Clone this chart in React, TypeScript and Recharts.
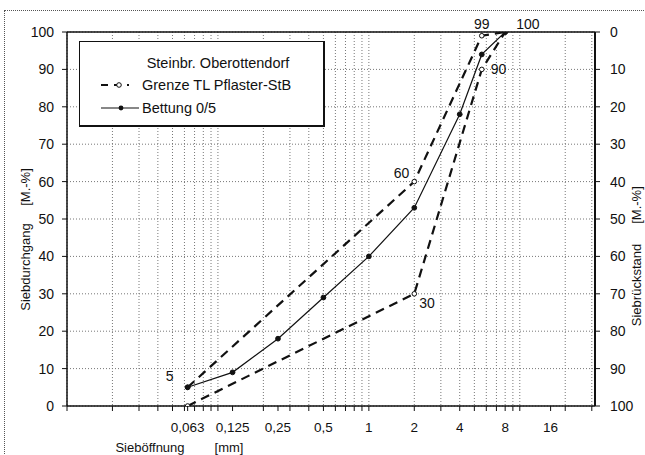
import React from 'react'
import {
  LineChart,
  Line,
  XAxis,
  YAxis,
  CartesianGrid,
  ReferenceLine,
  ReferenceDot,
} from 'recharts'

// sieve sizes in mm
const sieveSizes = [0.063, 0.125, 0.25, 0.5, 1, 2, 4, 5.6, 8]
const bettungPassing = [5, 9, 18, 29, 40, 53, 78, 94, 100]

const limitSizes = [0.063, 2, 5.6, 8]
const upperLimit = [5, 60, 99, 100]
const lowerLimit = [0, 30, 90, 100]

const labeledSieves = [0.063, 0.125, 0.25, 0.5, 1, 2, 4, 8, 16]
const decades = [0.01, 0.1, 1, 10]
const steps = [1, 2, 3, 4, 5, 6, 7, 8, 9]
const percentTicks = [0, 10, 20, 30, 40, 50, 60, 70, 80, 90, 100]

const X_MIN = 0.01
const X_MAX = 31.5

const gridX = decades
  .flatMap(d => steps.map(s => +(d * s).toPrecision(3)))
  .filter(v => v <= X_MAX)
const xTicks = Array.from(new Set([...gridX, ...labeledSieves])).sort((a, b) => a - b)

const bettung = sieveSizes.map((size, i) => ({ size, value: bettungPassing[i] }))
const upper = limitSizes.map((size, i) => ({ size, value: upperLimit[i] }))
const lower = limitSizes.map((size, i) => ({ size, value: lowerLimit[i] }))

const FONT = '"Liberation Sans", Arial, sans-serif'
const xTickStyle = { fontFamily: FONT, fontSize: 13.5, fill: '#111' }
const yTickStyle = { fontFamily: FONT, fontSize: 14, fill: '#111' }

function SieveTick({ x, y, payload }: any) {
  const v = payload.value
  if (!labeledSieves.includes(v)) return null
  return (
    <text x={x} y={y} dy="0.71em" textAnchor="middle" {...xTickStyle}>
      {String(v).replace('.', ',')}
    </text>
  )
}

function RightTick({ x, y, payload }: any) {
  return (
    <text x={x} y={y} dy="0.355em" textAnchor="start" {...yTickStyle}>
      {payload.value}
    </text>
  )
}

const annotation = { fontFamily: FONT, fontSize: 14, fill: '#111' }

export default function App() {
  return (
    <div
      style={{
        position: 'fixed',
        left: 0,
        top: 0,
        width: 645,
        height: 455,
        overflow: 'hidden',
        background: '#fff',
      }}
    >
      <div
        style={{
          position: 'absolute',
          left: 4,
          top: 10,
          width: 700,
          height: 500,
          border: '1px dotted #555',
        }}
      />
      <LineChart
        width={645}
        height={455}
        data={bettung}
        margin={{ top: 32, right: 0, left: 0, bottom: 0 }}
        style={{ position: 'absolute', left: 0, top: 0 }}
      >
        <CartesianGrid
          stroke="#777"
          strokeDasharray="1 2"
          verticalValues={gridX}
          yAxisId="left"
        />
        <XAxis
          dataKey="size"
          type="number"
          scale="log"
          domain={[X_MIN, X_MAX]}
          allowDataOverflow
          ticks={xTicks}
          interval={0}
          height={49}
          tick={<SieveTick />}
          tickSize={5}
          tickMargin={11}
          axisLine={{ stroke: '#111', strokeWidth: 1.5 }}
          tickLine={{ stroke: '#111' }}
        />
        <YAxis
          yAxisId="left"
          type="number"
          domain={[0, 100]}
          allowDataOverflow
          ticks={percentTicks}
          interval={0}
          width={67}
          tick={yTickStyle}
          tickSize={5}
          tickMargin={8}
          axisLine={{ stroke: '#111', strokeWidth: 1.5 }}
          tickLine={{ stroke: '#111' }}
        />
        <YAxis
          yAxisId="right"
          orientation="right"
          type="number"
          domain={[0, 100]}
          allowDataOverflow
          reversed
          ticks={percentTicks}
          interval={0}
          width={50}
          tick={<RightTick />}
          tickSize={5}
          tickMargin={10}
          axisLine={{ stroke: '#111', strokeWidth: 2 }}
          tickLine={{ stroke: '#111' }}
        />
        <ReferenceLine yAxisId="right" y={0} stroke="#111" strokeWidth={1.5} />

        <Line
          yAxisId="left"
          data={upper}
          dataKey="value"
          type="linear"
          stroke="#111"
          strokeWidth={2.2}
          strokeDasharray="9 6"
          dot={{ r: 2.3, fill: '#fff', stroke: '#111', strokeWidth: 1, strokeDasharray: '' }}
          isAnimationActive={false}
        />
        <Line
          yAxisId="left"
          data={lower}
          dataKey="value"
          type="linear"
          stroke="#111"
          strokeWidth={2.2}
          strokeDasharray="9 6"
          dot={{ r: 2.3, fill: '#fff', stroke: '#111', strokeWidth: 1, strokeDasharray: '' }}
          isAnimationActive={false}
        />
        <Line
          yAxisId="left"
          dataKey="value"
          type="linear"
          stroke="#111"
          strokeWidth={1.2}
          dot={{ r: 2.4, fill: '#111', stroke: '#111', strokeWidth: 1 }}
          isAnimationActive={false}
        />

        <ReferenceDot
          yAxisId="left"
          x={limitSizes[0]}
          y={upperLimit[0]}
          r={0}
          label={{ value: String(upperLimit[0]), position: 'left', offset: 14, dy: -11, ...annotation }}
        />
        <ReferenceDot
          yAxisId="left"
          x={limitSizes[1]}
          y={upperLimit[1]}
          r={0}
          label={{ value: String(upperLimit[1]), position: 'left', offset: 5, dy: -9, ...annotation }}
        />
        <ReferenceDot
          yAxisId="left"
          x={limitSizes[2]}
          y={upperLimit[2]}
          r={0}
          label={{ value: String(upperLimit[2]), position: 'top', offset: 7, ...annotation }}
        />
        <ReferenceDot
          yAxisId="left"
          x={limitSizes[3]}
          y={upperLimit[3]}
          r={0}
          label={{ value: String(upperLimit[3]), position: 'right', offset: 11, dy: -8, ...annotation }}
        />
        <ReferenceDot
          yAxisId="left"
          x={limitSizes[2]}
          y={lowerLimit[2]}
          r={0}
          label={{ value: String(lowerLimit[2]), position: 'right', offset: 9, ...annotation }}
        />
        <ReferenceDot
          yAxisId="left"
          x={limitSizes[1]}
          y={lowerLimit[1]}
          r={0}
          label={{ value: String(lowerLimit[1]), position: 'right', offset: 5, dy: 9, ...annotation }}
        />
      </LineChart>

      {/* axis titles */}
      <svg
        width={645}
        height={455}
        style={{ position: 'absolute', left: 0, top: 0, pointerEvents: 'none' }}
      >
        <g fontFamily={FONT} fontSize={13} fill="#111">
          <text transform="translate(25,267) rotate(-90)" textAnchor="middle" dominantBaseline="central">
            Siebdurchgang
          </text>
          <text transform="translate(25,187) rotate(-90)" textAnchor="middle" dominantBaseline="central">
            [M.-%]
          </text>
          <text transform="translate(636,285) rotate(-90)" textAnchor="middle" dominantBaseline="central">
            Siebrückstand
          </text>
          <text transform="translate(636,205) rotate(-90)" textAnchor="middle" dominantBaseline="central">
            [M.-%]
          </text>
          <text x={150} y={447} textAnchor="middle" dominantBaseline="central">
            Sieböffnung
          </text>
          <text x={229} y={447} textAnchor="middle" dominantBaseline="central">
            [mm]
          </text>
        </g>
      </svg>

      {/* legend box */}
      <div
        style={{
          position: 'absolute',
          left: 79,
          top: 41,
          width: 243,
          height: 83,
          border: '1.5px solid #111',
          borderRightWidth: 2.5,
          borderBottomWidth: 2.5,
          background: '#fff',
        }}
      >
        <svg width={243} height={83} style={{ position: 'absolute', left: 0, top: 0 }}>
          <g fontFamily={FONT} fontSize={14.5} fill="#111">
            <text x={138} y={21} textAnchor="middle" dominantBaseline="central">
              Steinbr. Oberottendorf
            </text>
            <text x={62} y={43} dominantBaseline="central">
              Grenze TL Pflaster-StB
            </text>
            <text x={62} y={66} dominantBaseline="central">
              Bettung 0/5
            </text>
          </g>
          <line x1={21} y1={43} x2={49} y2={43} stroke="#111" strokeWidth={2} strokeDasharray="7 6" />
          <circle cx={39} cy={43} r={2.3} fill="#fff" stroke="#111" strokeWidth={1} />
          <line x1={21} y1={66} x2={59} y2={66} stroke="#111" strokeWidth={1.2} />
          <circle cx={41} cy={66} r={2.4} fill="#111" />
        </svg>
      </div>
    </div>
  )
}
